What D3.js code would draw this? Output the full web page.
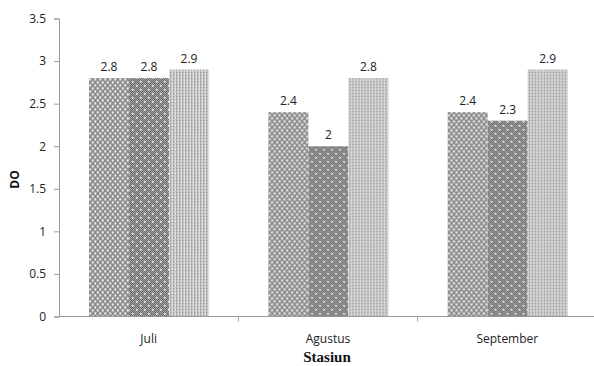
<!DOCTYPE html>
<html>
<head>
<meta charset="utf-8">
<script src="https://cdn.jsdelivr.net/npm/d3@7/dist/d3.min.js"></script>
<style>
  html, body { margin: 0; padding: 0; background: #fff; }
  svg { display: block; }
</style>
</head>
<body>
<svg id="chart" width="594" height="366"></svg>
<script>
// Dissolved oxygen per sampling month, three stations each
const months = ["Juli", "Agustus", "September"];
const stations = ["St1", "St2", "St3"];
const st1 = [2.8, 2.4, 2.4];
const st2 = [2.8, 2.0, 2.3];
const st3 = [2.9, 2.8, 2.9];
const yTicks = [0, 0.5, 1, 1.5, 2, 2.5, 3, 3.5];

const seriesValues = [st1, st2, st3];
const rows = months.map((m, i) => ({
  month: m,
  values: stations.map((s, j) => ({ station: s, idx: j, value: seriesValues[j][i] }))
}));

const svg = d3.select("#chart");
const plotLeft = 59, plotRight = 597, plotTop = 18.5, plotBottom = 316.5;

const x0 = d3.scaleBand().domain(months).range([plotLeft, plotRight]).paddingInner(0).paddingOuter(0);
const x1 = d3.scaleBand().domain(stations).range([30, x0.bandwidth() - 29.3]).padding(0);
const y = d3.scaleLinear().domain([0, 3.5]).range([plotBottom, plotTop]);

// Fill patterns for the three stations
const defs = svg.append("defs");

// Station 1: gray lattice with white square dots
const p1 = defs.append("pattern").attr("id", "pat1").attr("patternUnits", "userSpaceOnUse")
  .attr("width", 5).attr("height", 6);
p1.append("rect").attr("width", 5).attr("height", 6).attr("fill", "#8e8e8e");
p1.append("rect").attr("x", 0).attr("y", 0).attr("width", 2.5).attr("height", 3).attr("fill", "#a6a6a6");
p1.append("rect").attr("x", 2.5).attr("y", 3).attr("width", 2.5).attr("height", 3).attr("fill", "#a6a6a6");
p1.append("rect").attr("x", 0.5).attr("y", 0.5).attr("width", 1.6).attr("height", 1.8).attr("fill", "#f4f4f4");
p1.append("rect").attr("x", 3).attr("y", 3.5).attr("width", 1.6).attr("height", 1.8).attr("fill", "#f4f4f4");

// Station 2: fine dark checker with sparse white dots
const p2 = defs.append("pattern").attr("id", "pat2").attr("patternUnits", "userSpaceOnUse")
  .attr("width", 8).attr("height", 8);
p2.append("rect").attr("width", 8).attr("height", 8).attr("fill", "#a4a4a4");
for (let i = 0; i < 8; i++) {
  for (let j = 0; j < 8; j++) {
    if ((i + j) % 2 === 0) {
      p2.append("rect").attr("x", i).attr("y", j).attr("width", 1).attr("height", 1).attr("fill", "#6a6a6a");
    }
  }
}
p2.append("rect").attr("x", 1).attr("y", 1).attr("width", 1.6).attr("height", 1.6).attr("fill", "#f4f4f4");
p2.append("rect").attr("x", 5).attr("y", 5).attr("width", 1.6).attr("height", 1.6).attr("fill", "#f4f4f4");

// Station 3: light vertical dotted stripes
const p3 = defs.append("pattern").attr("id", "pat3").attr("patternUnits", "userSpaceOnUse")
  .attr("width", 3).attr("height", 3);
p3.append("rect").attr("width", 3).attr("height", 3).attr("fill", "#dcdcdc");
p3.append("rect").attr("x", 0).attr("y", 0).attr("width", 1.4).attr("height", 1.6).attr("fill", "#959595");
p3.append("rect").attr("x", 0).attr("y", 1.6).attr("width", 1.4).attr("height", 1.4).attr("fill", "#b8b8b8");

const fills = ["url(#pat1)", "url(#pat2)", "url(#pat3)"];

// Bars
const groups = svg.append("g").selectAll("g").data(rows).join("g")
  .attr("transform", d => `translate(${x0(d.month)},0)`);

groups.selectAll("rect").data(d => d.values).join("rect")
  .attr("x", d => x1(d.station))
  .attr("y", d => y(d.value))
  .attr("width", x1.bandwidth())
  .attr("height", d => y(0) - y(d.value))
  .attr("fill", d => fills[d.idx]);

// Value labels
groups.selectAll("text").data(d => d.values).join("text")
  .attr("x", d => x1(d.station) + x1.bandwidth() / 2)
  .attr("y", d => y(d.value) - 7)
  .attr("text-anchor", "middle")
  .attr("font-family", "'Open Sans', 'Liberation Sans', sans-serif")
  .attr("font-size", 12)
  .attr("fill", "#222")
  .text(d => d.value);

// Y axis
const yAxis = d3.axisLeft(y).tickValues(yTicks).tickSize(5).tickPadding(8).tickFormat(d3.format("~g"));
const gy = svg.append("g").attr("transform", `translate(${plotLeft},0)`).call(yAxis);
gy.select(".domain").attr("stroke", "#9a9a9a");
gy.selectAll(".tick line").attr("stroke", "#9a9a9a");
gy.selectAll(".tick text")
  .attr("font-family", "'Open Sans', 'Liberation Sans', sans-serif")
  .attr("font-size", 12).attr("fill", "#222");

// X axis with ticks at category boundaries
const gx = svg.append("g").attr("transform", `translate(0,${plotBottom})`);
gx.append("line").attr("x1", plotLeft).attr("x2", plotRight).attr("stroke", "#9a9a9a");
gx.selectAll("line.tk").data(months.slice(1)).join("line").attr("class", "tk")
  .attr("x1", d => x0(d)).attr("x2", d => x0(d)).attr("y1", 0).attr("y2", 5).attr("stroke", "#9a9a9a");
gx.selectAll("text").data(months).join("text")
  .attr("x", d => x0(d) + x0.bandwidth() / 2)
  .attr("y", 26)
  .attr("text-anchor", "middle")
  .attr("font-family", "'Open Sans', 'Liberation Sans', sans-serif")
  .attr("font-size", 12).attr("fill", "#222")
  .text(d => d);

// Axis titles
svg.append("text")
  .attr("transform", `translate(19,${(plotTop + plotBottom) / 2 + 12}) rotate(-90)`)
  .attr("text-anchor", "middle")
  .attr("font-family", "'Open Sans', 'Liberation Sans', sans-serif")
  .attr("font-weight", "bold").attr("font-size", 12).attr("fill", "#111")
  .text("DO");

svg.append("text")
  .attr("x", 327).attr("y", 362)
  .attr("text-anchor", "middle")
  .attr("font-family", "'Liberation Serif', 'Times New Roman', serif")
  .attr("font-weight", "bold").attr("font-size", 15).attr("fill", "#111")
  .text("Stasiun");
</script>
</body>
</html>
